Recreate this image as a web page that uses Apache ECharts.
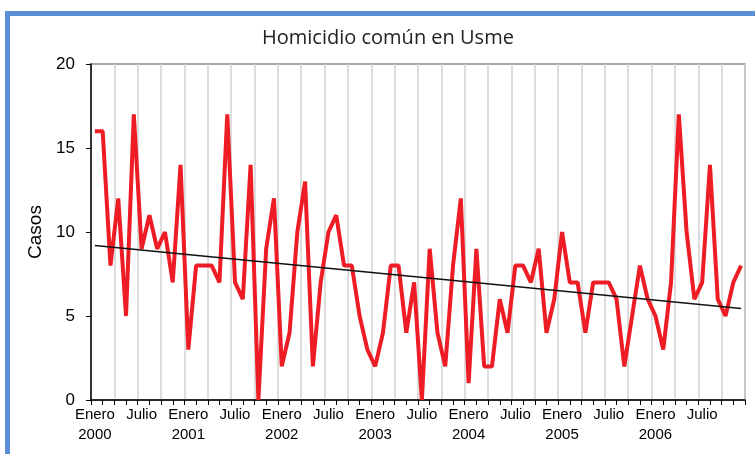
<!DOCTYPE html>
<html>
<head>
<meta charset="utf-8">
<script src="https://cdn.jsdelivr.net/npm/echarts@6/dist/echarts.min.js"></script>
<style>
  html, body { margin: 0; padding: 0; background: #fff; }
  #main { width: 755px; height: 454px; }
</style>
</head>
<body>
<div id="main"></div>
<script>
// monthly cases, Enero 2000 .. Diciembre 2006
const years = ['2000', '2001', '2002', '2003', '2004', '2005', '2006'];
const monthNames = ['Enero', 'Febrero', 'Marzo', 'Abril', 'Mayo', 'Junio',
  'Julio', 'Agosto', 'Septiembre', 'Octubre', 'Noviembre', 'Diciembre'];
const casos2000 = [16, 16, 8, 12, 5, 17, 9, 11, 9, 10, 7, 14];
const casos2001 = [3, 8, 8, 8, 7, 17, 7, 6, 14, 0, 9, 12];
const casos2002 = [2, 4, 10, 13, 2, 7, 10, 11, 8, 8, 5, 3];
const casos2003 = [2, 4, 8, 8, 4, 7, 0, 9, 4, 2, 8, 12];
const casos2004 = [1, 9, 2, 2, 6, 4, 8, 8, 7, 9, 4, 6];
const casos2005 = [10, 7, 7, 4, 7, 7, 7, 6, 2, 5, 8, 6];
const casos2006 = [5, 3, 7, 17, 10, 6, 7, 14, 6, 5, 7, 8];
// linear trend line, value at first and last month
const trendEnds = [9.2, 5.45];
const yTicks = [0, 5, 10, 15, 20];

const casos = [].concat(casos2000, casos2001, casos2002, casos2003, casos2004, casos2005, casos2006);
const meses = [];
years.forEach(function (y) {
  monthNames.forEach(function (m) { meses.push(m + ' ' + y); });
});

const chart = echarts.init(document.getElementById('main'));
chart.setOption({
  animation: false,
  backgroundColor: '#fff',
  textStyle: { fontFamily: 'Liberation Sans' },
  title: {
    text: 'Homicidio común en Usme',
    left: 257,
    top: 23,
    textStyle: { fontFamily: 'Open Sans', fontWeight: 'normal', fontSize: 20, color: '#222' }
  },
  graphic: [{
    type: 'rect',
    shape: { x: 7.5, y: 13.5, width: 820, height: 520 },
    style: { fill: 'none', stroke: '#5b8ed6', lineWidth: 5 },
    silent: true
  }],
  grid: {
    left: 91, right: 10, top: 64, bottom: 54,
    show: true, borderColor: '#8a8a8a', borderWidth: 1.5, backgroundColor: '#fff'
  },
  xAxis: [{
    type: 'category',
    data: meses,
    boundaryGap: true,
    axisLine: { show: false },
    axisTick: { show: false },
    axisLabel: {
      interval: 0,
      fontSize: 15,
      lineHeight: 20,
      color: '#000',
      margin: 5,
      formatter: function (v, i) {
        if (i % 12 === 0) return 'Enero\n' + years[i / 12];
        if (i % 12 === 6) return 'Julio\n';
        return '';
      }
    },
    splitLine: { show: false }
  }, {
    type: 'value',
    position: 'bottom',
    min: 0,
    max: casos.length,
    interval: 3,
    axisLine: { show: true, onZero: false, lineStyle: { color: '#000', width: 1.5 } },
    axisTick: { show: true, length: 5, lineStyle: { color: '#000', width: 1 } },
    minorTick: { show: true, splitNumber: 2, length: 5, lineStyle: { color: '#000', width: 1 } },
    axisLabel: { show: false },
    splitLine: { show: true, lineStyle: { color: '#d2d2d2', width: 1.5 } }
  }],
  yAxis: {
    type: 'value',
    min: yTicks[0],
    max: yTicks[yTicks.length - 1],
    interval: 5,
    name: 'Casos',
    nameLocation: 'middle',
    nameGap: 44,
    nameRotate: 90,
    nameTextStyle: { fontSize: 19, color: '#000' },
    axisLine: { show: true, lineStyle: { color: '#000', width: 1.5 } },
    axisTick: { show: true, length: 5, lineStyle: { color: '#000' } },
    axisLabel: { fontSize: 17, color: '#000', margin: 16 },
    splitLine: { show: false }
  },
  series: [{
    name: 'Casos',
    type: 'line',
    xAxisIndex: 0,
    data: casos,
    symbol: 'none',
    lineStyle: { color: '#ee1c25', width: 4 },
    z: 3
  }, {
    name: 'Tendencia',
    type: 'line',
    xAxisIndex: 0,
    data: [[0, trendEnds[0]], [casos.length - 1, trendEnds[1]]],
    symbol: 'none',
    lineStyle: { color: '#111', width: 1.4 },
    z: 4
  }]
});
</script>
</body>
</html>
